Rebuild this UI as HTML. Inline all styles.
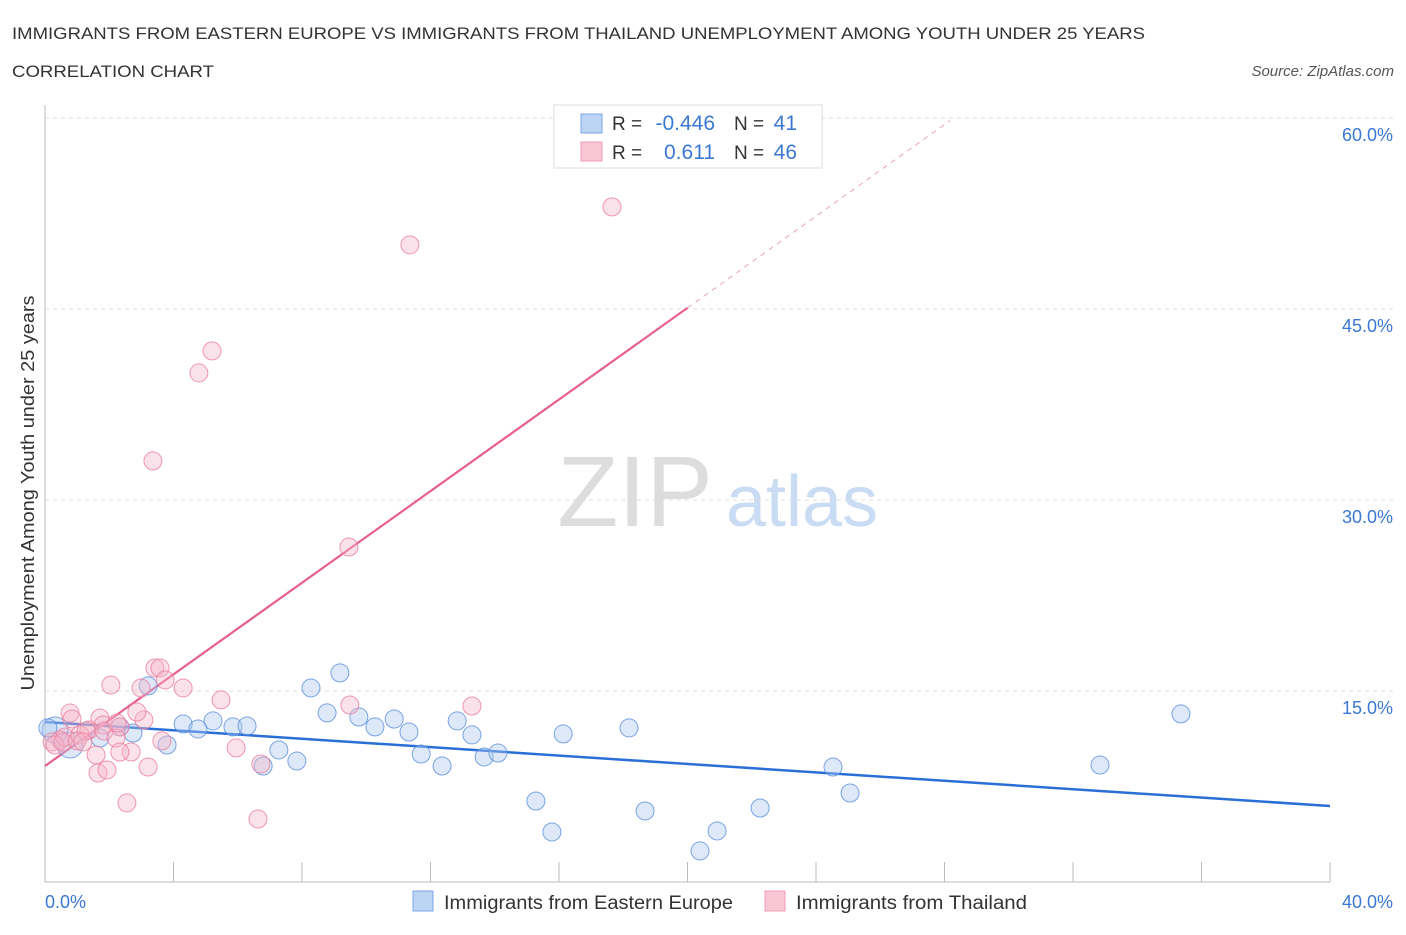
<!DOCTYPE html>
<html><head><meta charset="utf-8"><style>
body{margin:0;background:#fff;font-family:"Liberation Sans",sans-serif;}
svg text{font-family:"Liberation Sans",sans-serif;}
</style></head><body>
<svg id="chart" width="1406" height="930" viewBox="0 0 1406 930" xmlns="http://www.w3.org/2000/svg">
<text x="12" y="39" font-size="17" fill="#333" textLength="1133" lengthAdjust="spacingAndGlyphs">IMMIGRANTS FROM EASTERN EUROPE VS IMMIGRANTS FROM THAILAND UNEMPLOYMENT AMONG YOUTH UNDER 25 YEARS</text>
<text x="12" y="77" font-size="17" fill="#333" textLength="202" lengthAdjust="spacingAndGlyphs">CORRELATION CHART</text>
<text x="1394" y="76" font-size="15" fill="#555" font-style="italic" text-anchor="end">Source: ZipAtlas.com</text>
<g>
<text x="635" y="526" font-size="100" fill="#ddd" font-family="Liberation Serif" text-anchor="middle">ZIP</text>
<text x="802" y="526" font-size="72" fill="#c9dcf3" text-anchor="middle">atlas</text>
</g>
<g id="grid"></g><g id="axes"></g><g id="trends"></g><g id="pts"></g>
<text transform="translate(34,493) rotate(-90)" font-size="18" fill="#333" text-anchor="middle" textLength="395" lengthAdjust="spacingAndGlyphs">Unemployment Among Youth under 25 years</text>
<text x="45" y="908" font-size="18" fill="#3a78d4">0.0%</text>
<text x="1393" y="908" font-size="18" fill="#3a78d4" text-anchor="end">40.0%</text>
<g>
<rect x="554" y="105" width="268" height="63" fill="#fff" stroke="#ddd"/>
<rect x="581" y="114" width="21" height="19" fill="#bcd5f5" stroke="#7aa6e6"/>
<rect x="581" y="142" width="21" height="19" fill="#f9c6d5" stroke="#ee9db6"/>
<text x="612" y="130" font-size="19" fill="#333">R =</text>
<text x="715" y="130" font-size="21" fill="#3a78d4" text-anchor="end">-0.446</text>
<text x="734" y="130" font-size="19" fill="#333">N =</text>
<text x="797" y="130" font-size="21" fill="#3a78d4" text-anchor="end">41</text>
<text x="612" y="159" font-size="19" fill="#333">R =</text>
<text x="715" y="159" font-size="21" fill="#3a78d4" text-anchor="end">0.611</text>
<text x="734" y="159" font-size="19" fill="#333">N =</text>
<text x="797" y="159" font-size="21" fill="#3a78d4" text-anchor="end">46</text>
</g>
<g>
<rect x="413" y="891" width="20" height="20" fill="#bcd5f5" stroke="#7aa6e6"/>
<text x="444" y="909" font-size="19" fill="#333" textLength="289" lengthAdjust="spacingAndGlyphs">Immigrants from Eastern Europe</text>
<rect x="765" y="891" width="20" height="20" fill="#f9c6d5" stroke="#ee9db6"/>
<text x="796" y="909" font-size="19" fill="#333" textLength="231" lengthAdjust="spacingAndGlyphs">Immigrants from Thailand</text>
</g>
</svg>
<script>
const yTicks=[15,30,45,60];
const yTickLabels=["15.0%","30.0%","45.0%","60.0%"];
const xTicks=[0,4,8,12,16,20,24,28,32,36,40];
const blueX=[0.31,0.78,1.71,2.33,2.74,3.21,3.80,4.30,4.76,5.23,5.85,6.29,6.79,7.28,7.84,8.28,8.78,9.18,9.77,10.27,10.87,11.33,11.71,12.36,12.83,13.29,13.67,14.10,15.28,15.78,16.13,18.18,18.68,20.39,20.92,22.26,24.53,25.06,32.84,35.36,0.09];
const blueY=[11.94,10.76,11.31,12.18,11.70,15.40,10.76,12.41,12.02,12.65,12.18,12.25,9.11,10.37,9.50,15.24,13.28,16.42,12.96,12.18,12.80,11.78,10.05,9.11,12.65,11.55,9.82,10.13,6.36,3.93,11.63,12.10,5.58,2.44,4.01,5.81,9.03,6.99,9.19,13.20,12.10];
const pinkX=[17.65,11.36,5.20,4.79,3.36,9.46,2.05,2.99,3.42,3.58,3.74,4.30,5.48,9.49,13.29,0.78,0.84,1.71,1.81,1.37,2.33,1.84,3.08,2.86,2.21,2.68,3.21,1.59,1.65,1.93,5.95,6.72,2.55,6.63,3.64,0.47,0.22,0.62,1.09,2.33,1.28,2.24,0.31,0.56,1.00,1.18];
const pinkY=[53.02,50.04,41.71,39.98,33.07,26.31,15.47,15.24,16.81,16.81,15.87,15.24,14.30,13.90,13.82,13.27,12.80,12.88,12.33,11.94,12.18,11.86,12.73,13.35,11.31,10.21,9.03,9.98,8.56,8.80,10.53,9.27,6.21,4.95,11.08,11.15,11.00,11.39,11.55,10.21,11.86,12.49,10.76,11.00,11.08,11.00];
const blueTrend=[12.57,5.97];
const pinkTrend=[9.11,45.09,59.8];
const pinkTrendX=[0,20.0,28.17];
const NS="http://www.w3.org/2000/svg";
const sx=v=>45+v/40*1285;
const sy=v=>882-v*12.733;
function mk(tag,attrs,parent){const e=document.createElementNS(NS,tag);for(const k in attrs)e.setAttribute(k,attrs[k]);document.getElementById(parent).appendChild(e);return e;}
yTicks.forEach((t,i)=>{
 const l=mk('line',{x1:45,x2:1395,y1:sy(t),y2:sy(t),stroke:'#ddd','stroke-dasharray':'4,4'},'grid');
 
 
 const tx=mk('text',{x:1393,y:sy(t)+23,'font-size':18,fill:'#3a78d4','text-anchor':'end'},'grid');
 tx.textContent=yTickLabels[i];
 
 
});
const ya=mk('line',{x1:45,x2:45,y1:105,y2:882,stroke:'#bbb'},'axes');


const xa=mk('line',{x1:45,x2:1330,y1:882,y2:882,stroke:'#bbb'},'axes');


xTicks.forEach(t=>{
 const l=mk('line',{x1:sx(t),x2:sx(t),y1:862,y2:882,stroke:'#bbb'},'axes');
 
 
});
function dots(X,Y,fill,stroke,name){
 X.forEach((x,i)=>{
  const c=mk('circle',{cx:sx(x),cy:sy(Y[i]),r:(name==='blue-point'&&i<2)?13:9,fill:fill,'fill-opacity':0.4,stroke:stroke,'stroke-opacity':0.8,'stroke-width':1},'pts');
  
  
 });
}
dots(blueX,blueY,'#a9c8f0','#5b8fdd','blue-point');
dots(pinkX,pinkY,'#f6b3c7','#e87fa0','pink-point');
const bt=mk('line',{x1:sx(0),y1:sy(blueTrend[0]),x2:sx(40),y2:sy(blueTrend[1]),stroke:'#2a6fd6','stroke-width':2.5},'trends');


const pt=mk('line',{x1:sx(pinkTrendX[0]),y1:sy(pinkTrend[0]),x2:sx(pinkTrendX[1]),y2:sy(pinkTrend[1]),stroke:'#e8608a','stroke-width':2.2},'trends');


const pd=mk('line',{x1:sx(pinkTrendX[1]),y1:sy(pinkTrend[1]),x2:sx(pinkTrendX[2]),y2:sy(pinkTrend[2]),stroke:'#eaa0b8','stroke-width':1,'stroke-dasharray':'5,5'},'trends');


</script>
</body></html>
